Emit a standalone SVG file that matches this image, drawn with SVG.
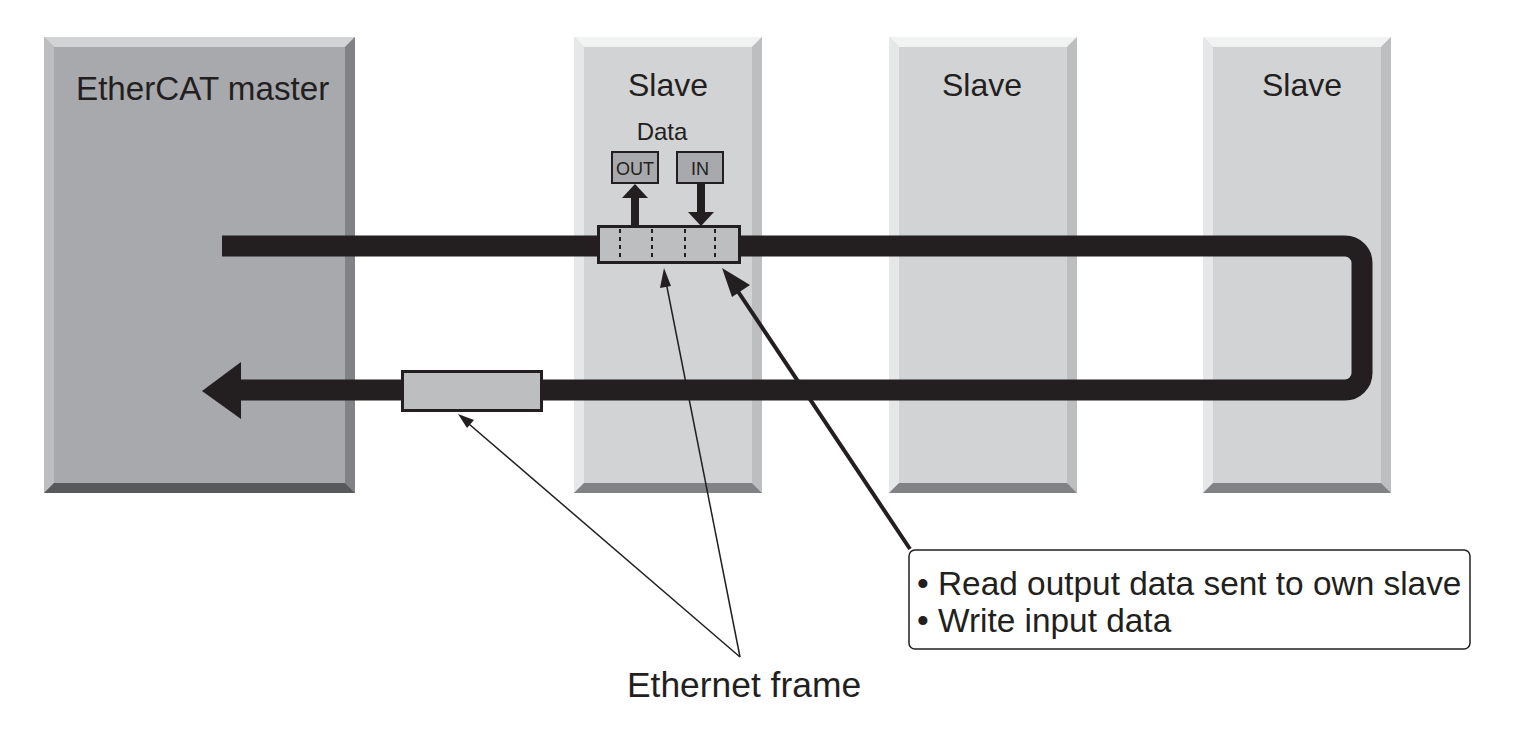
<svg xmlns="http://www.w3.org/2000/svg" width="1526" height="748" viewBox="0 0 1526 748">
<style>
text{font-family:"Liberation Sans",Arial,Helvetica,sans-serif;fill:#231f20}
.lbl{font-size:32px}
.bus{fill:none;stroke:#231f20;stroke-width:21}
.frame{fill:#bcbec0;stroke:#231f20;stroke-width:3}
.dash{stroke:#231f20;stroke-width:2;stroke-dasharray:4 4}
.small{fill:#a7a9ac;stroke:#231f20;stroke-width:2}
.thin{stroke:#231f20;stroke-width:1.5;fill:none}
.blk{fill:#231f20}
</style>
<rect width="1526" height="748" fill="#ffffff"/>
<g id="master">
<rect x="44" y="37" width="311" height="456" fill="#a7a9ac"/>
<polygon points="44,37 355,37 345,47 54,47" fill="#d1d3d4"/>
<polygon points="44,37 54,47 54,483 44,493" fill="#bcbec0"/>
<polygon points="355,37 355,493 345,483 345,47" fill="#808285"/>
<polygon points="44,493 54,483 345,483 355,493" fill="#58595b"/>
<text x="76" y="100" font-size="33.2">EtherCAT master</text>
</g>
<g id="slave1">
<rect x="574" y="37" width="188" height="456" fill="#d1d3d4"/>
<polygon points="574,37 762,37 752,47 584,47" fill="#f1f2f2"/>
<polygon points="574,37 584,47 584,483 574,493" fill="#e6e7e8"/>
<polygon points="762,37 762,493 752,483 752,47" fill="#bcbec0"/>
<polygon points="574,493 584,483 752,483 762,493" fill="#808285"/>
<text class="lbl" x="668" y="96" text-anchor="middle">Slave</text>
<text x="662" y="140" font-size="24" text-anchor="middle">Data</text>
</g>
<g id="slave2">
<rect x="889" y="37" width="188" height="456" fill="#d1d3d4"/>
<polygon points="889,37 1077,37 1067,47 899,47" fill="#f1f2f2"/>
<polygon points="889,37 899,47 899,483 889,493" fill="#e6e7e8"/>
<polygon points="1077,37 1077,493 1067,483 1067,47" fill="#bcbec0"/>
<polygon points="889,493 899,483 1067,483 1077,493" fill="#808285"/>
<text class="lbl" x="982" y="96" text-anchor="middle">Slave</text>
</g>
<g id="slave3">
<rect x="1203" y="37" width="188" height="456" fill="#d1d3d4"/>
<polygon points="1203,37 1391,37 1381,47 1213,47" fill="#f1f2f2"/>
<polygon points="1203,37 1213,47 1213,483 1203,493" fill="#e6e7e8"/>
<polygon points="1391,37 1391,493 1381,483 1381,47" fill="#bcbec0"/>
<polygon points="1203,493 1213,483 1381,483 1391,493" fill="#808285"/>
<text class="lbl" x="1302" y="96" text-anchor="middle">Slave</text>
</g>
<g id="connectors">
<path class="bus" d="M222,246 H1345 A17,17 0 0 1 1362,263 V373 A17,17 0 0 1 1345,390 H240"/>
<polygon class="blk" points="202,391 241,362 241,419"/>
<rect x="631" y="196" width="8" height="30" class="blk"/>
<polygon class="blk" points="622,198 648,198 635,184"/>
<rect x="697" y="183" width="8" height="30" class="blk"/>
<polygon class="blk" points="688,212 714,212 701,226"/>
<line class="thin" x1="740" y1="657" x2="462" y2="418"/>
<polygon class="blk" points="458,414 474,420 467,428"/>
<line class="thin" x1="740" y1="657" x2="666" y2="282"/>
<polygon class="blk" points="664,268 671,286 660,288"/>
<line x1="910" y1="549" x2="735" y2="287" stroke="#231f20" stroke-width="4"/>
<polygon class="blk" points="722,268 750,285 732,297"/>
</g>
<g id="frame-top">
<rect class="frame" x="598.5" y="226.5" width="141" height="36"/>
<line class="dash" x1="620" y1="229" x2="620" y2="262"/>
<line class="dash" x1="652" y1="229" x2="652" y2="262"/>
<line class="dash" x1="685" y1="229" x2="685" y2="262"/>
<line class="dash" x1="715" y1="229" x2="715" y2="262"/>
</g>
<g id="frame-bottom">
<rect class="frame" x="402.5" y="371.5" width="139" height="39"/>
</g>
<g id="out-box">
<rect class="small" x="612" y="152" width="46" height="31"/>
<text x="635" y="175" font-size="18" text-anchor="middle">OUT</text>
</g>
<g id="in-box">
<rect class="small" x="677" y="152" width="46" height="31"/>
<text x="700" y="175" font-size="18" text-anchor="middle">IN</text>
</g>
<g id="callout">
<rect x="909" y="550" width="561" height="99" rx="6" fill="#ffffff" stroke="#231f20" stroke-width="1.5"/>
<text x="917" y="595" font-size="33.4">• Read output data sent to own slave</text>
<text x="917" y="632" font-size="33.4">• Write input data</text>
</g>
<g id="ethernet-label">
<text x="627" y="697" font-size="35.4">Ethernet frame</text>
</g>
</svg>
